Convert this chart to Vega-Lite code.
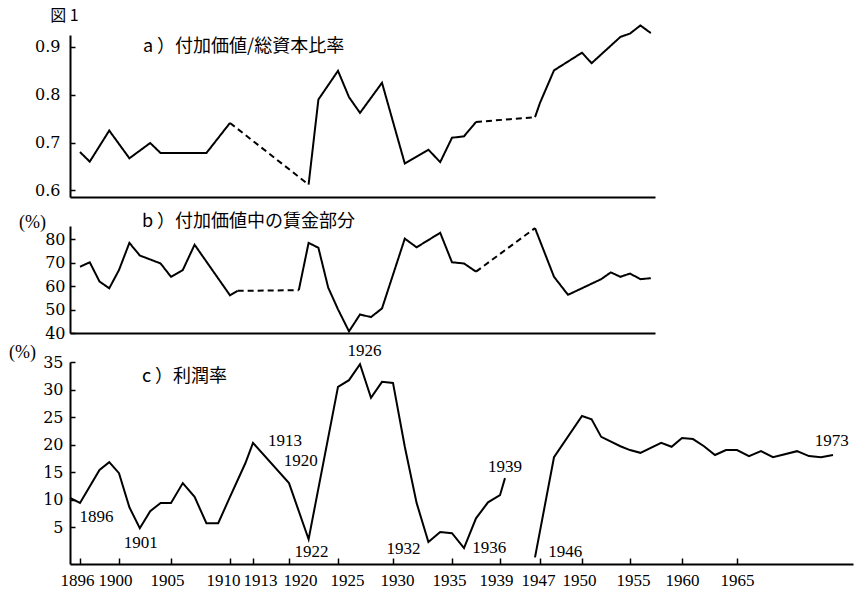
{
  "$schema": "https://vega.github.io/schema/vega-lite/v6.json",
  "autosize": {"type": "none"},
  "padding": {"left": 70, "top": 35, "right": 785, "bottom": 555},
  "background": "white",
  "bounds": "flush",
  "spacing": 29,
  "datasets": {
    "a": [
      {"year": 1896, "v": 0.680, "seg": "a1", "kind": "solid"},
      {"year": 1897, "v": 0.660, "seg": "a1", "kind": "solid"},
      {"year": 1899, "v": 0.725, "seg": "a1", "kind": "solid"},
      {"year": 1901, "v": 0.667, "seg": "a1", "kind": "solid"},
      {"year": 1903, "v": 0.699, "seg": "a1", "kind": "solid"},
      {"year": 1904, "v": 0.678, "seg": "a1", "kind": "solid"},
      {"year": 1908, "v": 0.678, "seg": "a1", "kind": "solid"},
      {"year": 1910, "v": 0.741, "seg": "a1", "kind": "solid"},
      {"year": 1910, "v": 0.741, "seg": "a2", "kind": "dashed"},
      {"year": 1922, "v": 0.612, "seg": "a2", "kind": "dashed"},
      {"year": 1922, "v": 0.612, "seg": "a3", "kind": "solid"},
      {"year": 1923, "v": 0.790, "seg": "a3", "kind": "solid"},
      {"year": 1925, "v": 0.850, "seg": "a3", "kind": "solid"},
      {"year": 1926, "v": 0.795, "seg": "a3", "kind": "solid"},
      {"year": 1927, "v": 0.762, "seg": "a3", "kind": "solid"},
      {"year": 1929, "v": 0.825, "seg": "a3", "kind": "solid"},
      {"year": 1931, "v": 0.656, "seg": "a3", "kind": "solid"},
      {"year": 1933, "v": 0.685, "seg": "a3", "kind": "solid"},
      {"year": 1934, "v": 0.659, "seg": "a3", "kind": "solid"},
      {"year": 1935, "v": 0.710, "seg": "a3", "kind": "solid"},
      {"year": 1936, "v": 0.713, "seg": "a3", "kind": "solid"},
      {"year": 1937, "v": 0.743, "seg": "a3", "kind": "solid"},
      {"year": 1937, "v": 0.743, "seg": "a4", "kind": "dashed"},
      {"year": 1946, "v": 0.753, "seg": "a4", "kind": "dashed"},
      {"year": 1946, "v": 0.753, "seg": "a5", "kind": "solid"},
      {"year": 1947, "v": 0.783, "seg": "a5", "kind": "solid"},
      {"year": 1948, "v": 0.851, "seg": "a5", "kind": "solid"},
      {"year": 1950, "v": 0.888, "seg": "a5", "kind": "solid"},
      {"year": 1951, "v": 0.866, "seg": "a5", "kind": "solid"},
      {"year": 1954, "v": 0.921, "seg": "a5", "kind": "solid"},
      {"year": 1955, "v": 0.928, "seg": "a5", "kind": "solid"},
      {"year": 1956, "v": 0.945, "seg": "a5", "kind": "solid"},
      {"year": 1957, "v": 0.929, "seg": "a5", "kind": "solid"}
    ],
    "b": [
      {"year": 1896, "v": 68.3, "seg": "b1", "kind": "solid"},
      {"year": 1897, "v": 70.2, "seg": "b1", "kind": "solid"},
      {"year": 1898, "v": 62.0, "seg": "b1", "kind": "solid"},
      {"year": 1899, "v": 59.1, "seg": "b1", "kind": "solid"},
      {"year": 1900, "v": 66.9, "seg": "b1", "kind": "solid"},
      {"year": 1901, "v": 78.5, "seg": "b1", "kind": "solid"},
      {"year": 1902, "v": 73.1, "seg": "b1", "kind": "solid"},
      {"year": 1904, "v": 69.7, "seg": "b1", "kind": "solid"},
      {"year": 1905, "v": 64.0, "seg": "b1", "kind": "solid"},
      {"year": 1906, "v": 66.9, "seg": "b1", "kind": "solid"},
      {"year": 1907, "v": 77.7, "seg": "b1", "kind": "solid"},
      {"year": 1910, "v": 56.1, "seg": "b1", "kind": "solid"},
      {"year": 1911, "v": 58.0, "seg": "b1", "kind": "solid"},
      {"year": 1911, "v": 58.0, "seg": "b2", "kind": "dashed"},
      {"year": 1921, "v": 58.3, "seg": "b2", "kind": "dashed"},
      {"year": 1921, "v": 58.3, "seg": "b3", "kind": "solid"},
      {"year": 1922, "v": 78.5, "seg": "b3", "kind": "solid"},
      {"year": 1923, "v": 76.4, "seg": "b3", "kind": "solid"},
      {"year": 1924, "v": 59.4, "seg": "b3", "kind": "solid"},
      {"year": 1925, "v": 50.1, "seg": "b3", "kind": "solid"},
      {"year": 1926, "v": 40.7, "seg": "b3", "kind": "solid"},
      {"year": 1927, "v": 47.9, "seg": "b3", "kind": "solid"},
      {"year": 1928, "v": 46.8, "seg": "b3", "kind": "solid"},
      {"year": 1929, "v": 50.5, "seg": "b3", "kind": "solid"},
      {"year": 1931, "v": 80.3, "seg": "b3", "kind": "solid"},
      {"year": 1932, "v": 76.6, "seg": "b3", "kind": "solid"},
      {"year": 1934, "v": 82.8, "seg": "b3", "kind": "solid"},
      {"year": 1935, "v": 70.2, "seg": "b3", "kind": "solid"},
      {"year": 1936, "v": 69.7, "seg": "b3", "kind": "solid"},
      {"year": 1937, "v": 66.2, "seg": "b3", "kind": "solid"},
      {"year": 1937, "v": 66.2, "seg": "b4", "kind": "dashed"},
      {"year": 1946, "v": 84.8, "seg": "b4", "kind": "dashed"},
      {"year": 1946, "v": 84.8, "seg": "b5", "kind": "solid"},
      {"year": 1948, "v": 64.0, "seg": "b5", "kind": "solid"},
      {"year": 1949, "v": 56.3, "seg": "b5", "kind": "solid"},
      {"year": 1952, "v": 63.0, "seg": "b5", "kind": "solid"},
      {"year": 1953, "v": 65.9, "seg": "b5", "kind": "solid"},
      {"year": 1954, "v": 64.0, "seg": "b5", "kind": "solid"},
      {"year": 1955, "v": 65.4, "seg": "b5", "kind": "solid"},
      {"year": 1956, "v": 63.0, "seg": "b5", "kind": "solid"},
      {"year": 1957, "v": 63.4, "seg": "b5", "kind": "solid"}
    ],
    "c": [
      {"year": 1895, "v": 10.3, "seg": "c1"},
      {"year": 1896, "v": 9.4, "seg": "c1"},
      {"year": 1898, "v": 15.4, "seg": "c1"},
      {"year": 1899, "v": 16.8, "seg": "c1"},
      {"year": 1900, "v": 14.8, "seg": "c1"},
      {"year": 1901, "v": 8.6, "seg": "c1"},
      {"year": 1902, "v": 4.8, "seg": "c1"},
      {"year": 1903, "v": 7.9, "seg": "c1"},
      {"year": 1904, "v": 9.4, "seg": "c1"},
      {"year": 1905, "v": 9.4, "seg": "c1"},
      {"year": 1906, "v": 13.0, "seg": "c1"},
      {"year": 1907, "v": 10.5, "seg": "c1"},
      {"year": 1908, "v": 5.7, "seg": "c1"},
      {"year": 1909, "v": 5.7, "seg": "c1"},
      {"year": 1910, "v": 10.5, "seg": "c1"},
      {"year": 1912, "v": 16.6, "seg": "c1"},
      {"year": 1913, "v": 20.3, "seg": "c1"},
      {"year": 1920, "v": 13.0, "seg": "c1"},
      {"year": 1922, "v": 2.8, "seg": "c1"},
      {"year": 1925, "v": 30.5, "seg": "c1"},
      {"year": 1926, "v": 31.7, "seg": "c1"},
      {"year": 1927, "v": 34.6, "seg": "c1"},
      {"year": 1928, "v": 28.5, "seg": "c1"},
      {"year": 1929, "v": 31.4, "seg": "c1"},
      {"year": 1930, "v": 31.2, "seg": "c1"},
      {"year": 1931, "v": 19.6, "seg": "c1"},
      {"year": 1932, "v": 9.4, "seg": "c1"},
      {"year": 1933, "v": 2.3, "seg": "c1"},
      {"year": 1934, "v": 4.1, "seg": "c1"},
      {"year": 1935, "v": 3.9, "seg": "c1"},
      {"year": 1936, "v": 1.2, "seg": "c1"},
      {"year": 1937, "v": 6.6, "seg": "c1"},
      {"year": 1938, "v": 9.5, "seg": "c1"},
      {"year": 1939, "v": 10.8, "seg": "c1"},
      {"year": 1940, "v": 13.9, "seg": "c1"},
      {"year": 1946, "v": -0.5, "seg": "c2"},
      {"year": 1948, "v": 17.7, "seg": "c2"},
      {"year": 1950, "v": 25.2, "seg": "c2"},
      {"year": 1951, "v": 24.6, "seg": "c2"},
      {"year": 1952, "v": 21.4, "seg": "c2"},
      {"year": 1954, "v": 19.7, "seg": "c2"},
      {"year": 1955, "v": 19.0, "seg": "c2"},
      {"year": 1956, "v": 18.5, "seg": "c2"},
      {"year": 1958, "v": 20.3, "seg": "c2"},
      {"year": 1959, "v": 19.6, "seg": "c2"},
      {"year": 1960, "v": 21.2, "seg": "c2"},
      {"year": 1961, "v": 21.0, "seg": "c2"},
      {"year": 1962, "v": 19.7, "seg": "c2"},
      {"year": 1963, "v": 18.1, "seg": "c2"},
      {"year": 1964, "v": 19.0, "seg": "c2"},
      {"year": 1965, "v": 19.0, "seg": "c2"},
      {"year": 1966, "v": 17.9, "seg": "c2"},
      {"year": 1967, "v": 18.8, "seg": "c2"},
      {"year": 1968, "v": 17.7, "seg": "c2"},
      {"year": 1970, "v": 18.8, "seg": "c2"},
      {"year": 1971, "v": 17.9, "seg": "c2"},
      {"year": 1972, "v": 17.7, "seg": "c2"},
      {"year": 1973, "v": 18.1, "seg": "c2"}
    ]
  },
  "vconcat": [
    {
      "width": 585,
      "height": 162,
      "encoding": {
        "x": {"field": "year", "type": "quantitative",
          "scale": {"domain": [1895, 1896, 1900, 1905, 1910, 1913, 1920, 1925, 1930, 1935, 1939, 1947, 1950, 1955, 1957.4],
                    "range": [0, 10, 49, 101, 160, 183, 219, 268, 323, 382, 430, 470, 512, 560, 585], "nice": false, "zero": false},
          "axis": {"labels": false, "ticks": false, "title": null, "grid": false, "domainColor": "black", "domainWidth": 2}},
        "y": {"field": "v", "type": "quantitative",
          "scale": {"domain": [0.586, 0.925], "nice": false, "zero": false},
          "axis": {"values": [0.6, 0.7, 0.8, 0.9], "format": ".1f", "grid": false, "domainColor": "black", "domainWidth": 2,
                   "tickColor": "black", "tickSize": -5, "tickWidth": 1.5, "labelPadding": 15, "labelOverlap": false,
                   "labelFont": "DejaVu Serif", "labelFontSize": 16, "labelColor": "black",
                   "title": "図 1", "titleAngle": 0, "titleX": -6, "titleY": -20, "titleAlign": "center", "titleBaseline": "middle",
                   "titleFont": "Noto Sans CJK JP", "titleFontSize": 16, "titleFontWeight": "normal", "titleColor": "black"}}
      },
      "layer": [
        {
          "data": {"name": "a"},
          "mark": {"type": "line", "color": "black", "strokeWidth": 2},
          "encoding": {
            "detail": {"field": "seg"},
            "strokeDash": {"field": "kind", "type": "nominal", "scale": {"domain": ["solid", "dashed"], "range": [[1, 0], [6, 4]]}, "legend": null}
          }
        },
        {
          "data": {"values": [{"label": "a ）付加価値/総資本比率", "year": 1902.3, "v": 0.9}]},
          "mark": {"type": "text", "align": "left", "baseline": "middle", "font": "Noto Sans CJK JP", "fontSize": 18, "color": "black"},
          "encoding": {"text": {"field": "label"}}
        }
      ]
    },
    {
      "width": 585,
      "height": 107,
      "encoding": {
        "x": {"field": "year", "type": "quantitative",
          "scale": {"domain": [1895, 1896, 1900, 1905, 1910, 1913, 1920, 1925, 1930, 1935, 1939, 1947, 1950, 1955, 1957.4],
                    "range": [0, 10, 49, 101, 160, 183, 219, 268, 323, 382, 430, 470, 512, 560, 585], "nice": false, "zero": false},
          "axis": {"labels": false, "ticks": false, "title": null, "grid": false, "domainColor": "black", "domainWidth": 2}},
        "y": {"field": "v", "type": "quantitative",
          "scale": {"domain": [40, 85.7], "nice": false, "zero": false},
          "axis": {"values": [40, 50, 60, 70, 80], "grid": false, "domainColor": "black", "domainWidth": 2,
                   "tickColor": "black", "tickSize": -5, "tickWidth": 1.5, "labelPadding": 10, "labelOverlap": false,
                   "labelFont": "DejaVu Serif", "labelFontSize": 16, "labelColor": "black",
                   "title": "(%)", "titleAngle": 0, "titleX": -38, "titleY": -4, "titleAlign": "center", "titleBaseline": "middle",
                   "titleFont": "Liberation Serif", "titleFontSize": 18, "titleFontWeight": "normal", "titleColor": "black"}}
      },
      "layer": [
        {
          "data": {"name": "b"},
          "mark": {"type": "line", "color": "black", "strokeWidth": 2},
          "encoding": {
            "detail": {"field": "seg"},
            "strokeDash": {"field": "kind", "type": "nominal", "scale": {"domain": ["solid", "dashed"], "range": [[1, 0], [6, 4]]}, "legend": null}
          }
        },
        {
          "data": {"values": [{"label": "b ）付加価値中の賃金部分", "year": 1902.2, "v": 87.4}]},
          "mark": {"type": "text", "align": "left", "baseline": "middle", "font": "Noto Sans CJK JP", "fontSize": 18, "color": "black"},
          "encoding": {"text": {"field": "label"}}
        }
      ]
    },
    {
      "width": 783,
      "height": 202,
      "encoding": {
        "x": {"field": "year", "type": "quantitative",
          "scale": {"domain": [1895, 1896, 1900, 1905, 1910, 1913, 1920, 1925, 1930, 1935, 1939, 1947, 1950, 1955, 1960, 1965, 1973, 1975],
                    "range": [0, 10, 49, 101, 160, 183, 219, 268, 323, 382, 430, 470, 512, 560, 612, 667, 763, 783], "nice": false, "zero": false},
          "axis": {"values": [1896, 1900, 1905, 1910, 1913, 1920, 1925, 1930, 1935, 1939, 1947, 1950, 1955, 1960, 1965],
                   "format": "d", "title": null, "grid": false, "domainColor": "black", "domainWidth": 2,
                   "tickColor": "black", "tickSize": -6, "tickWidth": 1.5, "labelPadding": 14,
                   "labelFont": "Liberation Serif", "labelFontSize": 17, "labelColor": "black",
                   "labelFlush": false, "labelOverlap": false,
                   "labelOffset": {"condition": [
                     {"test": "datum.value == 1896", "value": -3},
                     {"test": "datum.value == 1900", "value": -4},
                     {"test": "datum.value == 1905", "value": -4},
                     {"test": "datum.value == 1910", "value": -7},
                     {"test": "datum.value == 1913", "value": 7},
                     {"test": "datum.value == 1920", "value": 11},
                     {"test": "datum.value == 1925", "value": 9},
                     {"test": "datum.value == 1930", "value": 4},
                     {"test": "datum.value == 1935", "value": -3},
                     {"test": "datum.value == 1939", "value": -4},
                     {"test": "datum.value == 1947", "value": -2},
                     {"test": "datum.value == 1950", "value": -3},
                     {"test": "datum.value == 1955", "value": 3}
                   ], "value": 0}}},
        "y": {"field": "v", "type": "quantitative",
          "scale": {"domain": [-1.7, 35], "nice": false, "zero": false},
          "axis": {"values": [5, 10, 15, 20, 25, 30, 35], "grid": false, "domainColor": "black", "domainWidth": 2,
                   "tickColor": "black", "tickSize": -5, "tickWidth": 1.5, "labelPadding": 12, "labelOverlap": false,
                   "labelFont": "DejaVu Serif", "labelFontSize": 16, "labelColor": "black",
                   "title": "(%)", "titleAngle": 0, "titleX": -48, "titleY": -10, "titleAlign": "center", "titleBaseline": "middle",
                   "titleFont": "Liberation Serif", "titleFontSize": 18, "titleFontWeight": "normal", "titleColor": "black"}}
      },
      "layer": [
        {
          "data": {"name": "c"},
          "mark": {"type": "line", "color": "black", "strokeWidth": 2},
          "encoding": {"detail": {"field": "seg"}}
        },
        {
          "data": {"values": [{"label": "c ）利潤率", "year": 1902.2, "v": 32.3}]},
          "mark": {"type": "text", "align": "left", "baseline": "middle", "font": "Noto Sans CJK JP", "fontSize": 18, "color": "black"},
          "encoding": {"text": {"field": "label"}}
        },
        {
          "data": {"values": [
            {"label": "1896", "year": 1897.7, "v": 6.8},
            {"label": "1901", "year": 1902.1, "v": 2.1},
            {"label": "1913", "year": 1919.2, "v": 20.6},
            {"label": "1920", "year": 1921.2, "v": 17.0},
            {"label": "1922", "year": 1922.3, "v": 0.5},
            {"label": "1926", "year": 1927.4, "v": 37.0},
            {"label": "1932", "year": 1930.9, "v": 1.0},
            {"label": "1936", "year": 1938.1, "v": 1.2},
            {"label": "1939", "year": 1940.0, "v": 15.9},
            {"label": "1946", "year": 1948.8, "v": 0.5},
            {"label": "1973", "year": 1972.9, "v": 20.6}
          ]},
          "mark": {"type": "text", "align": "center", "baseline": "middle", "font": "Liberation Serif", "fontSize": 17, "color": "black"},
          "encoding": {"text": {"field": "label"}}
        }
      ]
    }
  ],
  "config": {
    "view": {"stroke": null},
    "axis": {"grid": false, "labelOverlap": false}
  }
}
